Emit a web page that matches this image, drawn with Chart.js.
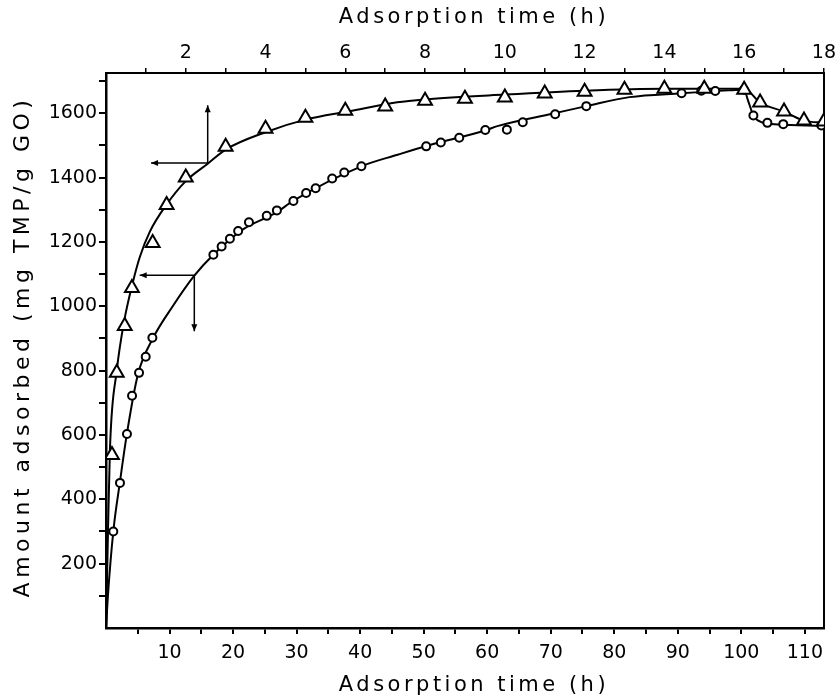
<!DOCTYPE html>
<html>
<head>
<meta charset="utf-8">
<script src="https://cdn.jsdelivr.net/npm/chart.js@4.4.0/dist/chart.umd.min.js"></script>
<style>
  html, body { margin: 0; padding: 0; background: #fff; }
  #wrap { width: 840px; height: 699px; }
</style>
</head>
<body>
<div id="wrap"><canvas id="c" width="840" height="699"></canvas></div>
<script>
// triangles: read against the top axis (hours 0-18)
const triX = [0.15, 0.27, 0.47, 0.65, 1.17, 1.52, 2, 3, 4, 5, 6, 7, 8, 9, 10, 11, 12, 13, 14, 15, 16, 16.4, 17, 17.5, 18];
const triY = [538, 793, 939, 1057, 1197, 1315, 1400, 1496, 1552, 1586, 1608, 1621, 1639, 1645, 1649, 1661, 1667, 1673, 1676, 1676, 1673, 1633, 1605, 1577, 1574];
// fitted line through triangles (top axis)
const triFitX = [0, 0.05, 0.1, 0.27, 0.45, 0.67, 0.85, 1.1, 1.5, 2, 2.55, 3, 4, 5, 6.1, 7.3, 8, 10, 12, 14, 16, 16.4, 17, 17.5, 18];
const triFitY = [0, 300, 560, 800, 950, 1073, 1154, 1232, 1313, 1389, 1443, 1487, 1541, 1580, 1606, 1634, 1643, 1658, 1670, 1676, 1676, 1633, 1605, 1577, 1570];

// circles: read against the bottom axis (hours 0-113)
const cirX = [1.15, 2.2, 3.3, 4.1, 5.2, 6.25, 7.3, 16.9, 18.2, 19.5, 20.8, 22.5, 25.3, 26.9, 29.5, 31.5, 33, 35.6, 37.5, 40.2, 50.4, 52.7, 55.6, 59.7, 63.1, 65.6, 70.7, 75.6, 90.6, 93.7, 95.9, 100.4, 101.9, 104.1, 106.6, 112.6];
const cirY = [300, 451, 603, 722, 793, 843, 902, 1160, 1186, 1210, 1234, 1261, 1281, 1298, 1327, 1352, 1367, 1397, 1416, 1435, 1497, 1509, 1524, 1548, 1549, 1572, 1597, 1622, 1662, 1670, 1669, 1673, 1593, 1570, 1566, 1562];
// fitted line through circles (bottom axis)
const cirFitX = [0, 0.3, 1.15, 2.2, 3.3, 5.05, 7.4, 10.5, 13.9, 16.9, 21.5, 26.7, 29.5, 40.2, 45.9, 51.1, 59.8, 61.6, 70.4, 75.6, 82.4, 90.6, 98, 100.4, 101.1, 101.9, 103.2, 105.8, 112.6];
const cirFitY = [0, 100, 300, 455, 605, 790, 901, 1000, 1095, 1160, 1238, 1290, 1328, 1435, 1471, 1502, 1547, 1560, 1599, 1622, 1650, 1662, 1671, 1673, 1637, 1593, 1572, 1565, 1561];

// axis ticks
const bottomTicks = [5, 10, 15, 20, 25, 30, 35, 40, 45, 50, 55, 60, 65, 70, 75, 80, 85, 90, 95, 100, 105, 110];
const topTicks = [1, 2, 3, 4, 5, 6, 7, 8, 9, 10, 11, 12, 13, 14, 15, 16, 17, 18];
const leftTicks = [100, 200, 300, 400, 500, 600, 700, 800, 900, 1000, 1100, 1200, 1300, 1400, 1500, 1600, 1700];

// axis arrows: [x, y, yEnd, xEnd]
const arrowTop = [2.55, 1445, 1625, 1.13];   // top axis
const arrowBottom = [13.9, 1096, 922, 5.3];  // bottom axis

const xTitle = 'Adsorption time (h)';
const yTitle = 'Amount adsorbed (mg TMP/g GO)';

const FONT = 'DejaVu Sans';
const black = '#000';

function pts(xs, ys) { return xs.map((x, i) => ({ x, y: ys[i] })); }

function arrowHead(ctx, x, y, dir) {
  const L = 7, W = 3;
  ctx.beginPath();
  if (dir === 'left') { ctx.moveTo(x, y); ctx.lineTo(x + L, y - W); ctx.lineTo(x + L, y + W); }
  if (dir === 'up') { ctx.moveTo(x, y); ctx.lineTo(x - W, y + L); ctx.lineTo(x + W, y + L); }
  if (dir === 'down') { ctx.moveTo(x, y); ctx.lineTo(x - W, y - L); ctx.lineTo(x + W, y - L); }
  ctx.closePath();
  ctx.fill();
}

const arrowPlugin = {
  id: 'arrows',
  afterDatasetsDraw(chart) {
    const ctx = chart.ctx;
    const yS = chart.scales.y;
    const draw = (xs, a, vDir) => {
      const px = xs.getPixelForValue(a[0]);
      const py = yS.getPixelForValue(a[1]);
      const pyEnd = yS.getPixelForValue(a[2]);
      const pxEnd = xs.getPixelForValue(a[3]);
      ctx.save();
      ctx.strokeStyle = black;
      ctx.fillStyle = black;
      ctx.lineWidth = 1.5;
      ctx.beginPath();
      ctx.moveTo(px, py); ctx.lineTo(px, pyEnd);
      ctx.moveTo(px, py); ctx.lineTo(pxEnd, py);
      ctx.stroke();
      arrowHead(ctx, px, pyEnd, vDir);
      arrowHead(ctx, pxEnd, py, 'left');
      ctx.restore();
    };
    draw(chart.scales.xTop, arrowTop, 'up');
    draw(chart.scales.x, arrowBottom, 'down');
  }
};

// axis titles drawn with wider letter spacing, like the scanned figure
const titlePlugin = {
  id: 'titles',
  afterDraw(chart) {
    const ctx = chart.ctx;
    const a = chart.chartArea;
    const cx = (a.left + a.right) / 2 + 9;
    ctx.save();
    ctx.fillStyle = black;
    ctx.font = '21px "' + FONT + '"';
    ctx.letterSpacing = '3.5px';
    ctx.textAlign = 'center';
    ctx.textBaseline = 'middle';
    ctx.fillText(xTitle, cx, 18);
    ctx.fillText(xTitle, cx, 686);
    ctx.font = '22px "' + FONT + '"';
    ctx.letterSpacing = '4.5px';
    ctx.translate(23, (a.top + a.bottom) / 2 - 4);
    ctx.rotate(-Math.PI / 2);
    ctx.fillText(yTitle, 0, 0);
    ctx.restore();
  }
};

new Chart(document.getElementById('c'), {
  type: 'line',
  data: {
    datasets: [
      { data: pts(triFitX, triFitY), xAxisID: 'xTop', yAxisID: 'y', borderColor: black, borderWidth: 2,
        pointRadius: 0, cubicInterpolationMode: 'monotone', order: 3 },
      { data: pts(cirFitX, cirFitY), xAxisID: 'x', yAxisID: 'y', borderColor: black, borderWidth: 2,
        pointRadius: 0, cubicInterpolationMode: 'monotone', order: 3 },
      { data: pts(triX, triY), xAxisID: 'xTop', yAxisID: 'y', showLine: false, pointStyle: 'triangle',
        pointRadius: 8, pointBorderWidth: 2, pointBorderColor: black, pointBackgroundColor: '#fff', order: 1 },
      { data: pts(cirX, cirY), xAxisID: 'x', yAxisID: 'y', showLine: false, pointStyle: 'circle',
        pointRadius: 4, pointBorderWidth: 2, pointBorderColor: black, pointBackgroundColor: '#fff', order: 2 }
    ]
  },
  options: {
    responsive: false,
    animation: false,
    layout: { padding: 0 },
    plugins: { legend: { display: false }, tooltip: { enabled: false } },
    scales: {
      x: {
        type: 'linear', position: 'bottom', min: 0, max: 113,
        afterBuildTicks: s => { s.ticks = bottomTicks.map(v => ({ value: v })); },
        afterFit: s => { s.height = 71; },
        ticks: { autoSkip: false, maxRotation: 0, padding: 8, color: black,
          font: { family: FONT, size: 19 },
          callback: v => (v % 10 === 0) ? String(v) : '' },
        grid: { display: true, drawOnChartArea: false, drawTicks: true, tickLength: 6, color: black, lineWidth: 2 },
        border: { display: true, color: black, width: 2.5 }
      },
      xTop: {
        type: 'linear', position: 'top', min: 0, max: 18,
        afterBuildTicks: s => { s.ticks = topTicks.map(v => ({ value: v })); },
        afterFit: s => { s.height = 73; },
        ticks: { autoSkip: false, maxRotation: 0, padding: 4, color: black,
          font: { family: FONT, size: 19 },
          callback: v => (v % 2 === 0) ? String(v) : '' },
        grid: { display: true, drawOnChartArea: false, drawTicks: true, tickLength: 5, color: black, lineWidth: 1.5 },
        border: { display: true, color: black, width: 2 }
      },
      y: {
        type: 'linear', position: 'left', min: 0, max: 1725,
        afterBuildTicks: s => { s.ticks = leftTicks.map(v => ({ value: v })); },
        afterFit: s => { s.width = 106; },
        ticks: { autoSkip: false, padding: 2, color: black,
          font: { family: FONT, size: 19 },
          callback: v => (v % 200 === 0) ? String(v) : '' },
        grid: { display: true, drawOnChartArea: false, drawTicks: true, tickLength: 7, color: black, lineWidth: 2 },
        border: { display: true, color: black, width: 2.5 }
      },
      yR: {
        type: 'linear', position: 'right', min: 0, max: 1725,
        afterFit: s => { s.width = 11; },
        ticks: { display: false },
        grid: { display: false, drawTicks: false },
        border: { display: true, color: black, width: 2 }
      }
    }
  },
  plugins: [arrowPlugin, titlePlugin]
});
</script>
</body>
</html>
